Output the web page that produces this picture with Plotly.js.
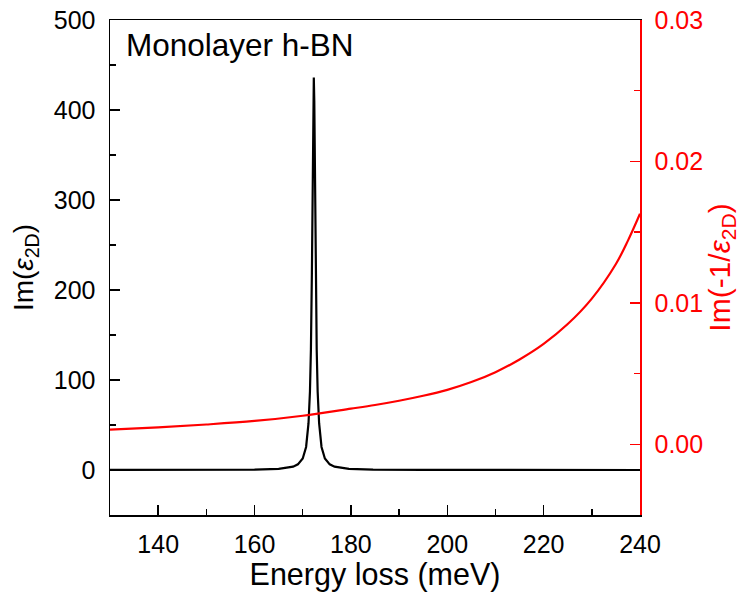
<!DOCTYPE html>
<html><head><meta charset="utf-8">
<script src="https://cdn.plot.ly/plotly-3.0.1.min.js"></script>
<style>html,body{margin:0;padding:0;background:#fff}</style>
</head><body><div id="chart" style="width:744px;height:599px"></div>
<script>
// Im(eps_2D) – black curve (left axis)
const epsX = [130, 150, 160, 165, 168, 169, 170, 170.7, 171.2, 171.5, 171.7, 171.9, 172.0, 172.1, 172.2, 172.3,
              172.4, 172.5, 172.6, 172.7, 172.9, 173.1, 173.4, 173.9, 174.6, 175.6, 176.6, 179.6, 184.6, 195, 210, 240];
const epsY = [0.04, 0.14, 0.46, 1.3, 3.7, 6.3, 12.8, 25.6, 52, 87, 134, 218, 279, 349, 410, 436,
              410, 349, 279, 218, 134, 87, 52, 25.6, 12.8, 6.3, 3.7, 1.3, 0.46, 0.16, 0.07, 0.02];
// Im(-1/eps_2D) – red curve (right axis)
const lossX = [130, 140, 150, 160, 170, 180, 185, 190, 195, 200, 205, 210, 215, 220, 225, 230, 235, 237.5, 240];
const lossY = [0.00104, 0.00120, 0.00140, 0.00165, 0.00202, 0.00252, 0.00278, 0.00308, 0.00343, 0.00385, 0.00440,
               0.00510, 0.00600, 0.00710, 0.00850, 0.01030, 0.01275, 0.01440, 0.01630];
const xTicks = [140, 160, 180, 200, 220, 240];
const yTicks = [0, 100, 200, 300, 400, 500];
const y2Ticks = [0, 0.01, 0.02, 0.03];
const y2TickText = ['0.00', '0.01', '0.02', '0.03'];

const FONT = 'Liberation Sans, Arial, sans-serif';
const traces = [
  {x: epsX, y: epsY, type: 'scatter', mode: 'lines', line: {color: '#000', width: 2.2}, yaxis: 'y', showlegend: false},
  {x: lossX, y: lossY, type: 'scatter', mode: 'lines', line: {color: '#ff0000', width: 2.2, shape: 'spline', smoothing: 1}, yaxis: 'y2', showlegend: false}
];
const layout = {
  width: 744, height: 599,
  margin: {l: 110, r: 104, t: 20, b: 84},
  paper_bgcolor: '#fff', plot_bgcolor: '#fff',
  font: {family: FONT, size: 25, color: '#000'},
  xaxis: {
    range: [130, 240], tickvals: xTicks, ticks: 'inside', ticklen: 10, tickwidth: 1.5, tickcolor: '#000',
    minor: {dtick: 10, tick0: 130, ticks: 'inside', ticklen: 6, tickwidth: 1.5, tickcolor: '#000'},
    showline: true, linecolor: '#000', linewidth: 1.5, mirror: true, showgrid: false, zeroline: false,
    ticklabelstandoff: 6,
    tickfont: {size: 25, family: FONT},
    title: {text: 'Energy loss (meV)', font: {size: 30.5, family: FONT}, standoff: 4}
  },
  yaxis: {
    range: [-50, 500], tickvals: yTicks, ticks: 'inside', ticklen: 10, tickwidth: 1.5, tickcolor: '#000',
    minor: {dtick: 50, tick0: 0, ticks: 'inside', ticklen: 6, tickwidth: 1.5, tickcolor: '#000'},
    showline: true, linecolor: '#000', linewidth: 1.5, showgrid: false, zeroline: false,
    ticklabelstandoff: 8,
    tickfont: {size: 25, family: FONT},
    title: {text: 'Im(<i>ε</i><sub>2D</sub>)', font: {size: 28, family: FONT}, standoff: 12}
  },
  yaxis2: {
    overlaying: 'y', side: 'right', range: [-0.005, 0.03], tickvals: y2Ticks, ticktext: y2TickText,
    ticks: 'inside', ticklen: 10, tickwidth: 1.5, tickcolor: '#ff0000',
    minor: {dtick: 0.005, tick0: 0, ticks: 'inside', ticklen: 6, tickwidth: 1.5, tickcolor: '#ff0000'},
    showline: true, linecolor: '#ff0000', linewidth: 1.5, showgrid: false, zeroline: false,
    ticklabelstandoff: 8,
    tickfont: {size: 25, family: FONT, color: '#ff0000'},
    title: {text: 'Im(-1/<i>ε</i><sub>2D</sub>)', font: {size: 30, family: FONT, color: '#ff0000'}, standoff: 4}
  },
  annotations: [{
    text: 'Monolayer h-BN', xref: 'paper', yref: 'paper', x: 0.026, y: 0.99, xanchor: 'left', yanchor: 'top',
    showarrow: false, font: {size: 31.5, family: FONT, color: '#000'}
  }]
};
Plotly.newPlot('chart', traces, layout, {displayModeBar: false, staticPlot: true});
</script></body></html>
